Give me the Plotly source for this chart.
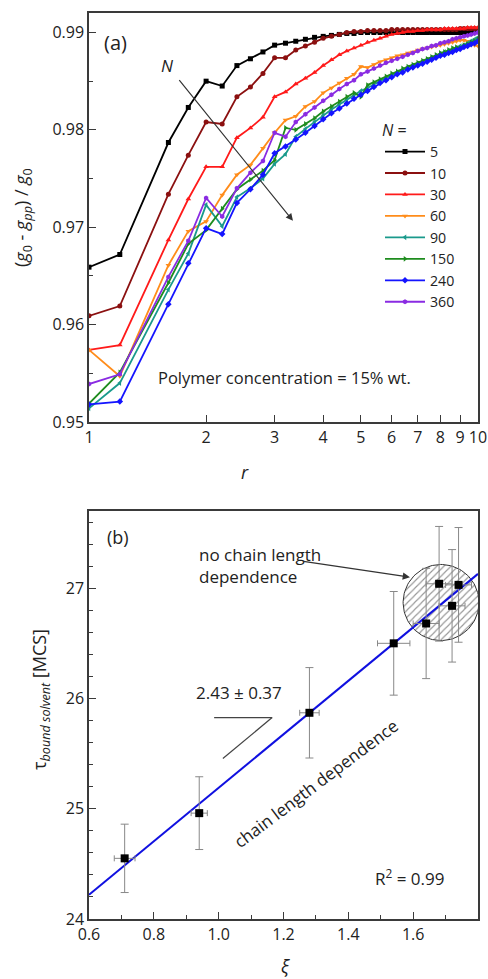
import numpy as np
import plotly.graph_objects as go

# ---------------- Panel (a) data ----------------
r_vals = [1.0, 1.2, 1.6, 1.8, 2.0, 2.2, 2.4, 2.6, 2.8, 3.0, 3.2, 3.4, 3.6, 3.8, 4.0,
          4.2, 4.4, 4.6, 4.8, 5.0, 5.2, 5.4, 5.6, 5.8, 6.0, 6.2, 6.4, 6.6, 6.8, 7.0,
          7.2, 7.4, 7.6, 7.8, 8.0, 8.2, 8.4, 8.6, 8.8, 9.0, 9.2, 9.4, 9.6, 9.8, 10.0]

g_N5 = [0.9659, 0.9672, 0.9787, 0.9823, 0.9850, 0.9845, 0.9866, 0.9873, 0.9880, 0.9887,
        0.9889, 0.9891, 0.9893, 0.9895, 0.9896, 0.9897, 0.9898, 0.9899, 0.9899, 0.9900,
        0.9900, 0.9900, 0.9900, 0.9900, 0.9900, 0.9900, 0.9900, 0.9900, 0.9900, 0.9900,
        0.9900, 0.9900, 0.9900, 0.9900, 0.9900, 0.9900, 0.9900, 0.9900, 0.9900, 0.9900,
        0.9900, 0.9900, 0.9901, 0.9901, 0.9901]
g_N10 = [0.9609, 0.9619, 0.9734, 0.9774, 0.9808, 0.9806, 0.9834, 0.9844, 0.9858, 0.9874,
         0.9874, 0.9882, 0.9886, 0.9890, 0.9894, 0.9896, 0.9898, 0.9900, 0.9901, 0.9901,
         0.9902, 0.9902, 0.9902, 0.9902, 0.9903, 0.9903, 0.9903, 0.9903, 0.9903, 0.9903,
         0.9903, 0.9903, 0.9903, 0.9903, 0.9903, 0.9903, 0.9903, 0.9903, 0.9903, 0.9904,
         0.9904, 0.9904, 0.9904, 0.9904, 0.9904]
g_N30 = [0.9574, 0.9579, 0.9687, 0.9729, 0.9762, 0.9762, 0.9792, 0.9802, 0.9813, 0.9834,
         0.9839, 0.9847, 0.9853, 0.9859, 0.9866, 0.9872, 0.9877, 0.9881, 0.9884, 0.9887,
         0.9890, 0.9892, 0.9894, 0.9896, 0.9898, 0.9899, 0.9900, 0.9901, 0.9901, 0.9902,
         0.9902, 0.9903, 0.9903, 0.9903, 0.9903, 0.9904, 0.9904, 0.9904, 0.9904, 0.9904,
         0.9904, 0.9905, 0.9905, 0.9905, 0.9905]
g_N60 = [0.9574, 0.9547, 0.9661, 0.9696, 0.9706, 0.9733, 0.9754, 0.9764, 0.9781, 0.9797,
         0.9810, 0.9814, 0.9824, 0.9829, 0.9838, 0.9843, 0.9848, 0.9853, 0.9857, 0.9865,
         0.9864, 0.9867, 0.9870, 0.9872, 0.9874, 0.9876, 0.9877, 0.9879, 0.9880, 0.9882,
         0.9883, 0.9884, 0.9885, 0.9886, 0.9887, 0.9888, 0.9889, 0.9890, 0.9891, 0.9892,
         0.9892, 0.9891, 0.9889, 0.9887, 0.9886]
g_N90 = [0.9514, 0.9540, 0.9636, 0.9673, 0.9723, 0.9701, 0.9731, 0.9740, 0.9750, 0.9765,
         0.9775, 0.9793, 0.9801, 0.9808, 0.9815, 0.9821, 0.9826, 0.9831, 0.9835, 0.9840,
         0.9843, 0.9847, 0.9850, 0.9853, 0.9856, 0.9859, 0.9861, 0.9864, 0.9866, 0.9868,
         0.9870, 0.9872, 0.9874, 0.9876, 0.9878, 0.9880, 0.9881, 0.9883, 0.9884, 0.9886,
         0.9887, 0.9889, 0.9891, 0.9893, 0.9895]
g_N150 = [0.9519, 0.9551, 0.9643, 0.9683, 0.9697, 0.9719, 0.9739, 0.9749, 0.9758, 0.9769,
          0.9802, 0.9800, 0.9806, 0.9812, 0.9819, 0.9824, 0.9829, 0.9834, 0.9838, 0.9834,
          0.9846, 0.9849, 0.9852, 0.9855, 0.9858, 0.9860, 0.9863, 0.9865, 0.9867, 0.9869,
          0.9871, 0.9873, 0.9875, 0.9877, 0.9879, 0.9880, 0.9882, 0.9884, 0.9885, 0.9884,
          0.9887, 0.9888, 0.9890, 0.9891, 0.9893]
g_N240 = [0.9518, 0.9521, 0.9621, 0.9663, 0.9699, 0.9693, 0.9725, 0.9739, 0.9754, 0.9776,
          0.9783, 0.9790, 0.9797, 0.9804, 0.9811, 0.9817, 0.9822, 0.9827, 0.9832, 0.9836,
          0.9840, 0.9844, 0.9848, 0.9851, 0.9854, 0.9857, 0.9859, 0.9862, 0.9864, 0.9866,
          0.9868, 0.9870, 0.9872, 0.9874, 0.9876, 0.9877, 0.9879, 0.9880, 0.9882, 0.9883,
          0.9885, 0.9886, 0.9888, 0.9889, 0.9891]
g_N360 = [0.9539, 0.9549, 0.9649, 0.9686, 0.9730, 0.9711, 0.9740, 0.9756, 0.9768, 0.9797,
          0.9793, 0.9808, 0.9816, 0.9823, 0.9830, 0.9836, 0.9842, 0.9847, 0.9851, 0.9857,
          0.9860, 0.9863, 0.9866, 0.9869, 0.9871, 0.9873, 0.9875, 0.9877, 0.9879, 0.9881,
          0.9883, 0.9884, 0.9886, 0.9887, 0.9889, 0.9890, 0.9891, 0.9893, 0.9894, 0.9895,
          0.9896, 0.9897, 0.9898, 0.9899, 0.9900]

N_labels = ["5", "10", "30", "60", "90", "150", "240", "360"]
series_a = [g_N5, g_N10, g_N30, g_N60, g_N90, g_N150, g_N240, g_N360]
colors_a = ["#000000", "#8b1010", "#ff1a1a", "#ff8c1a", "#1a9a8c", "#1e8c1e", "#1414ff", "#8a2be2"]
symbols_a = ["square", "circle", "triangle-up", "triangle-down", "triangle-left",
             "triangle-right", "diamond", "hexagon"]

x_ticks_a = [1, 2, 3, 4, 5, 6, 7, 8, 9, 10]
y_ticks_a = [0.95, 0.96, 0.97, 0.98, 0.99]

# ---------------- Panel (b) data ----------------
xi = [0.71, 0.94, 1.28, 1.54, 1.64, 1.68, 1.72, 1.74]
tau = [24.55, 24.96, 25.87, 26.50, 26.68, 27.04, 26.84, 27.03]
tau_err = [0.31, 0.33, 0.41, 0.47, 0.50, 0.52, 0.51, 0.52]
xi_err = [0.032, 0.025, 0.03, 0.05, 0.04, 0.04, 0.04, 0.04]
fit_xi = [0.6, 1.8]
fit_tau = [24.22, 27.13]

FONT = "Open Sans"
AX = "#3a3a3a"
TXT = "#222222"

fig = go.Figure()

for lab, ys, col, sym in zip(N_labels, series_a, colors_a, symbols_a):
    fig.add_trace(go.Scatter(
        x=r_vals, y=ys, mode="lines+markers", name=lab,
        line=dict(color=col, width=1.8),
        marker=dict(symbol=sym, size=5, color=col),
        xaxis="x", yaxis="y", legendgroup="a"))

# hatched circle (drawn under the points)
cx, cy, rx, ry = 1.686, 26.87, 0.117, 0.345
t = np.linspace(0, 2 * np.pi, 120)
fig.add_trace(go.Scatter(
    x=cx + rx * np.cos(t), y=cy + ry * np.sin(t), mode="lines",
    fill="toself", fillcolor="rgba(255,255,255,0)",
    fillpattern=dict(shape="/", fgcolor="#2a2a2a", bgcolor="rgba(255,255,255,0)",
                     size=5, solidity=0.22),
    line=dict(color="#333333", width=1), showlegend=False,
    xaxis="x2", yaxis="y2", hoverinfo="skip"))

fig.add_trace(go.Scatter(
    x=fit_xi, y=fit_tau, mode="lines", line=dict(color="#1010e0", width=2),
    showlegend=False, xaxis="x2", yaxis="y2"))

fig.add_trace(go.Scatter(
    x=xi, y=tau, mode="markers",
    marker=dict(symbol="square", size=8, color="black"),
    error_y=dict(type="data", array=tau_err, color="#888888", thickness=1, width=4),
    error_x=dict(type="data", array=xi_err, color="#888888", thickness=1, width=3),
    showlegend=False, xaxis="x2", yaxis="y2"))

H = 906.0
def py(p):
    return (919 - p) / H

def px(p):
    return (p - 89) / 389.0

axis_common = dict(showline=True, mirror=True, linecolor=AX, linewidth=1.5,
                   showgrid=False, zeroline=False, ticks="inside", tickcolor=AX,
                   ticklen=7, tickwidth=1.2, automargin=False,
                   tickfont=dict(family=FONT, size=16, color=TXT))

fig.update_layout(
    width=488, height=979,
    margin=dict(l=89, r=10, t=13, b=60, autoexpand=False),
    paper_bgcolor="white", plot_bgcolor="white",
    font=dict(family=FONT, size=16, color=TXT),
    xaxis=dict(type="log", range=[0, 1], domain=[0, 1], anchor="y",
               tickvals=x_ticks_a, ticktext=[str(v) for v in x_ticks_a], **axis_common),
    yaxis=dict(range=[0.95, 0.992], domain=[py(422), 1], anchor="x",
               tickvals=y_ticks_a, ticktext=["%.2f" % v for v in y_ticks_a],
               minor=dict(ticks="inside", ticklen=4, dtick=0.005, tickcolor=AX),
               **axis_common),
    xaxis2=dict(range=[0.6, 1.8], domain=[0, 1], anchor="y2", dtick=0.2, tick0=0.6,
                tickformat=".1f",
                minor=dict(ticks="inside", ticklen=4, dtick=0.1, tickcolor=AX),
                **axis_common),
    yaxis2=dict(range=[24, 27.7], domain=[0, py(511)], anchor="x2", dtick=1, tick0=24,
                minor=dict(ticks="inside", ticklen=4, dtick=0.2, tickcolor=AX),
                **axis_common),
    legend=dict(x=px(380), y=py(115), xanchor="left", yanchor="top",
                title=dict(text="<i>N</i> =", font=dict(family=FONT, size=16)),
                font=dict(family=FONT, size=14.2), bgcolor="rgba(0,0,0,0)",
                itemwidth=40, tracegroupgap=0),
    showlegend=True,
)

ann = []
def A(text, x, y, size=17, **kw):
    d = dict(text=text, x=x, y=y, xref="paper", yref="paper", showarrow=False,
             xanchor="center", yanchor="middle",
             font=dict(family=FONT, size=size, color=TXT))
    d.update(kw)
    ann.append(d)

def B(text, x, y, size=17, **kw):
    d = dict(text=text, x=x, y=y, xref="x2", yref="y2", showarrow=False,
             xanchor="center", yanchor="middle",
             font=dict(family=FONT, size=size, color=TXT))
    d.update(kw)
    ann.append(d)

# axis titles
A("(<i>g</i><sub>0</sub> - <i>g</i><sub><i>pp</i></sub>) / <i>g</i><sub>0</sub>",
  px(22), py(218), size=18, textangle=-90)
A("<i>r</i>", px(245), py(472), size=18)
A("τ<sub><i>bound solvent</i></sub> [MCS]", px(40), py(700), size=18, textangle=-90)
A("<i>ξ</i>", px(285), py(966), size=18)

# panel a texts
A("(a)", px(115), py(43), size=20)
A("<i>N</i>", px(167), py(66), size=17)
A("Polymer concentration = 15% wt.", px(284), py(377), size=16.5)
# arrow N
ann.append(dict(x=np.log10(3.345), y=0.97066, ax=np.log10(1.694), ay=0.98525,
                xref="x", yref="y", axref="x", ayref="y", text="", showarrow=True,
                arrowhead=2, arrowsize=1.2, arrowwidth=1.2, arrowcolor="#333333"))

# panel b texts
A("(b)", px(118), py(537), size=18)
B("no chain length<br>dependence", 0.933, 27.21, xanchor="left", align="left")
ann.append(dict(x=1.59, y=27.10, ax=1.257, ay=27.245, xref="x2", yref="y2",
                axref="x2", ayref="y2", text="", showarrow=True, arrowhead=2,
                arrowsize=1.2, arrowwidth=1.2, arrowcolor="#333333"))
B("2.43 ± 0.37", 1.063, 26.055)
B("chain length dependence", 1.30, 25.227, textangle=-37)
B("R<sup>2</sup> = 0.99", 1.59, 24.373)
fig.update_layout(annotations=ann)

fig.update_layout(shapes=[
    dict(type="line", xref="x2", yref="y2", x0=0.986, y0=25.827, x1=1.165, y1=25.827,
         line=dict(color="#444444", width=1.2)),
    dict(type="line", xref="x2", yref="y2", x0=1.165, y0=25.827, x1=1.013, y1=25.455,
         line=dict(color="#444444", width=1.2)),
])

fig.write_html("out.html")
